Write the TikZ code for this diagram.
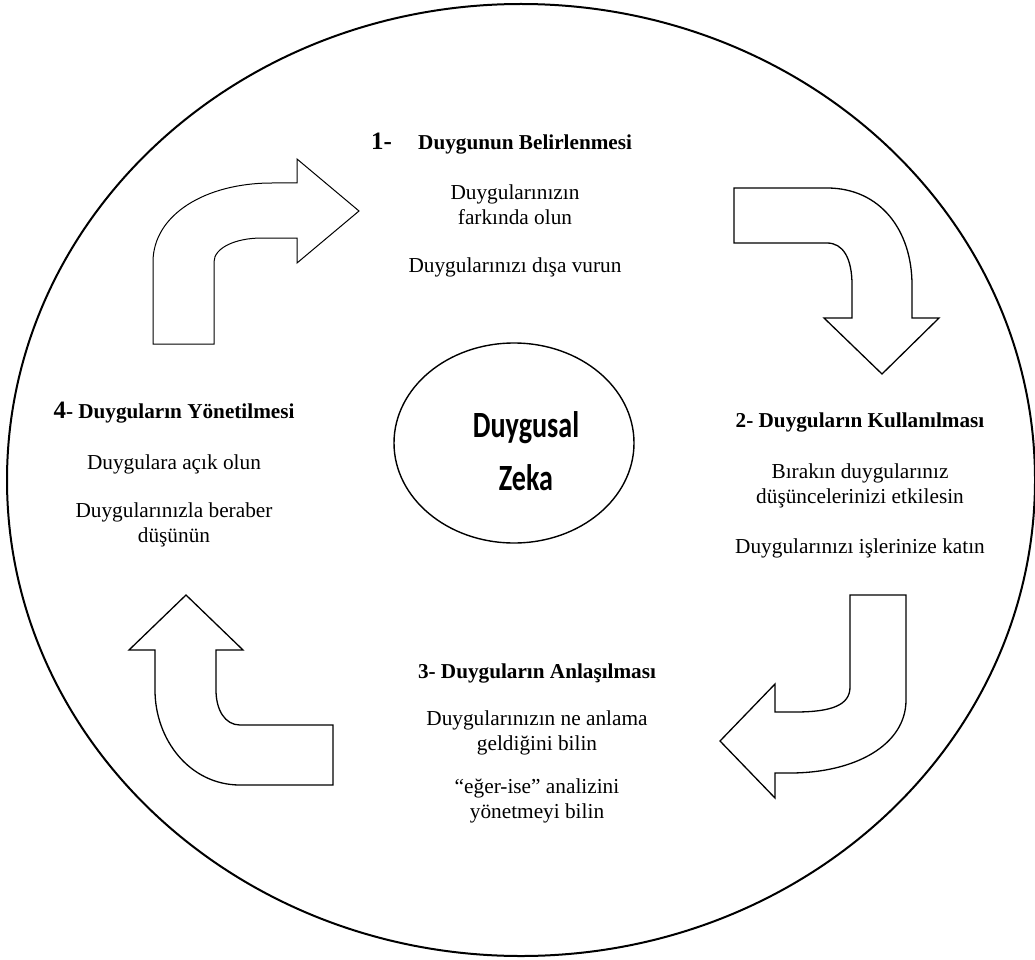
\documentclass[tikz,border=0pt]{standalone}
\usepackage{fontspec}
\setmainfont{Liberation Serif}
\newfontfamily\zekafont{Carlito}
\usetikzlibrary{shapes.geometric}
\begin{document}
\begin{tikzpicture}[x=1pt,y=-1pt,
  bigarrow/.style={draw=black, line width=1.3pt, fill=white, line join=miter},
  bodytext/.style={font=\fontsize{21.3}{25}\selectfont, align=center, inner sep=0pt},
  headtext/.style={font=\bfseries\fontsize{21.2}{24}\selectfont, inner sep=0pt},
  bignum/.style={font=\bfseries\fontsize{25}{28}\selectfont, inner sep=0pt},
  zekatext/.style={font=\zekafont\bfseries\fontsize{37}{40}\selectfont, inner sep=0pt, xscale=0.76}
]
\clip (0,0) rectangle (1035,960);
\fill[white] (0,0) rectangle (1035,960);
% outer ellipse
\node[ellipse, draw, line width=2pt, minimum width=1028pt, minimum height=952pt, inner sep=0pt] (outer) at (521,480) {};
% centre ellipse
\node[ellipse, draw, line width=1.4pt, minimum width=240pt, minimum height=200pt, inner sep=0pt] (core) at (514,443) {};
\node[zekatext, anchor=base] (zk1) at (526,437) {Duygusal};
\node[zekatext, anchor=base] (zk2) at (526,490) {Zeka};

% arrow 1 (up then right)
\draw[bigarrow, line width=1pt] (153,344) -- (153,262) .. controls (153,215) and (205,183) .. (272,183) -- (297,183) -- (297,159) -- (359,211) -- (297,263) -- (297,238) -- (262,238) .. controls (235,238) and (214,248) .. (214,262) -- (214,344) -- cycle;
% arrow 2 (right then down)
\draw[bigarrow] (734,188) -- (827,188) .. controls (880,188) and (912,230) .. (912,285) -- (912,318) -- (939,318) -- (882,374) -- (824,318) -- (852,318) -- (852,285) .. controls (852,258) and (843,243) .. (827,243) -- (734,243) -- cycle;
% arrow 3 (down then left)
\draw[bigarrow] (850,595) -- (906,595) -- (906,700) .. controls (906,745) and (855,773) .. (790,773) -- (775,773) -- (775,798) -- (720,741) -- (775,684) -- (775,712) -- (795,712) .. controls (832,712) and (850,705) .. (850,687) -- cycle;
% arrow 4 (left then up)
\draw[bigarrow] (333,725) -- (333,785) -- (240,785) .. controls (190,785) and (155,740) .. (155,690) -- (155,650) -- (129,650) -- (186,595) -- (243,650) -- (216,650) -- (216,690) .. controls (216,710) and (225,725) .. (240,725) -- cycle;

% block 1
\node[bignum, anchor=base west] (n1) at (371,150) {1-};
\node[headtext, anchor=base west] (h1) at (418,150) {Duygunun Belirlenmesi};
\node[bodytext] (b1a) at (515,205) {Duygularınızın\\ farkında olun};
\node[bodytext] (b1b) at (515,267) {Duygularınızı dışa vurun};

% block 2
\node[headtext, anchor=base] (h2) at (860,427) {2- Duyguların Kullanılması};
\node[bodytext] (b2a) at (860,486) {Bırakın duygularınız\\düşüncelerinizi etkilesin};
\node[bodytext] (b2b) at (860,548) {Duygularınızı işlerinize katın};

% block 3
\node[headtext, anchor=base] (h3) at (537,678) {3- Duyguların Anlaşılması};
\node[bodytext] (b3a) at (537,733) {Duygularınızın ne anlama\\geldiğini bilin};
\node[bodytext] (b3b) at (537,801) {“eğer-ise” analizini\\yönetmeyi bilin};

% block 4
\node[anchor=base, inner sep=0pt] (h4) at (174,418) {\bfseries\fontsize{25}{28}\selectfont 4\fontsize{21.2}{24}\selectfont- Duyguların Yönetilmesi};
\node[bodytext] (b4a) at (174,464) {Duygulara açık olun};
\node[bodytext] (b4b) at (174,525) {Duygularınızla beraber\\düşünün};
\end{tikzpicture}
\end{document}
